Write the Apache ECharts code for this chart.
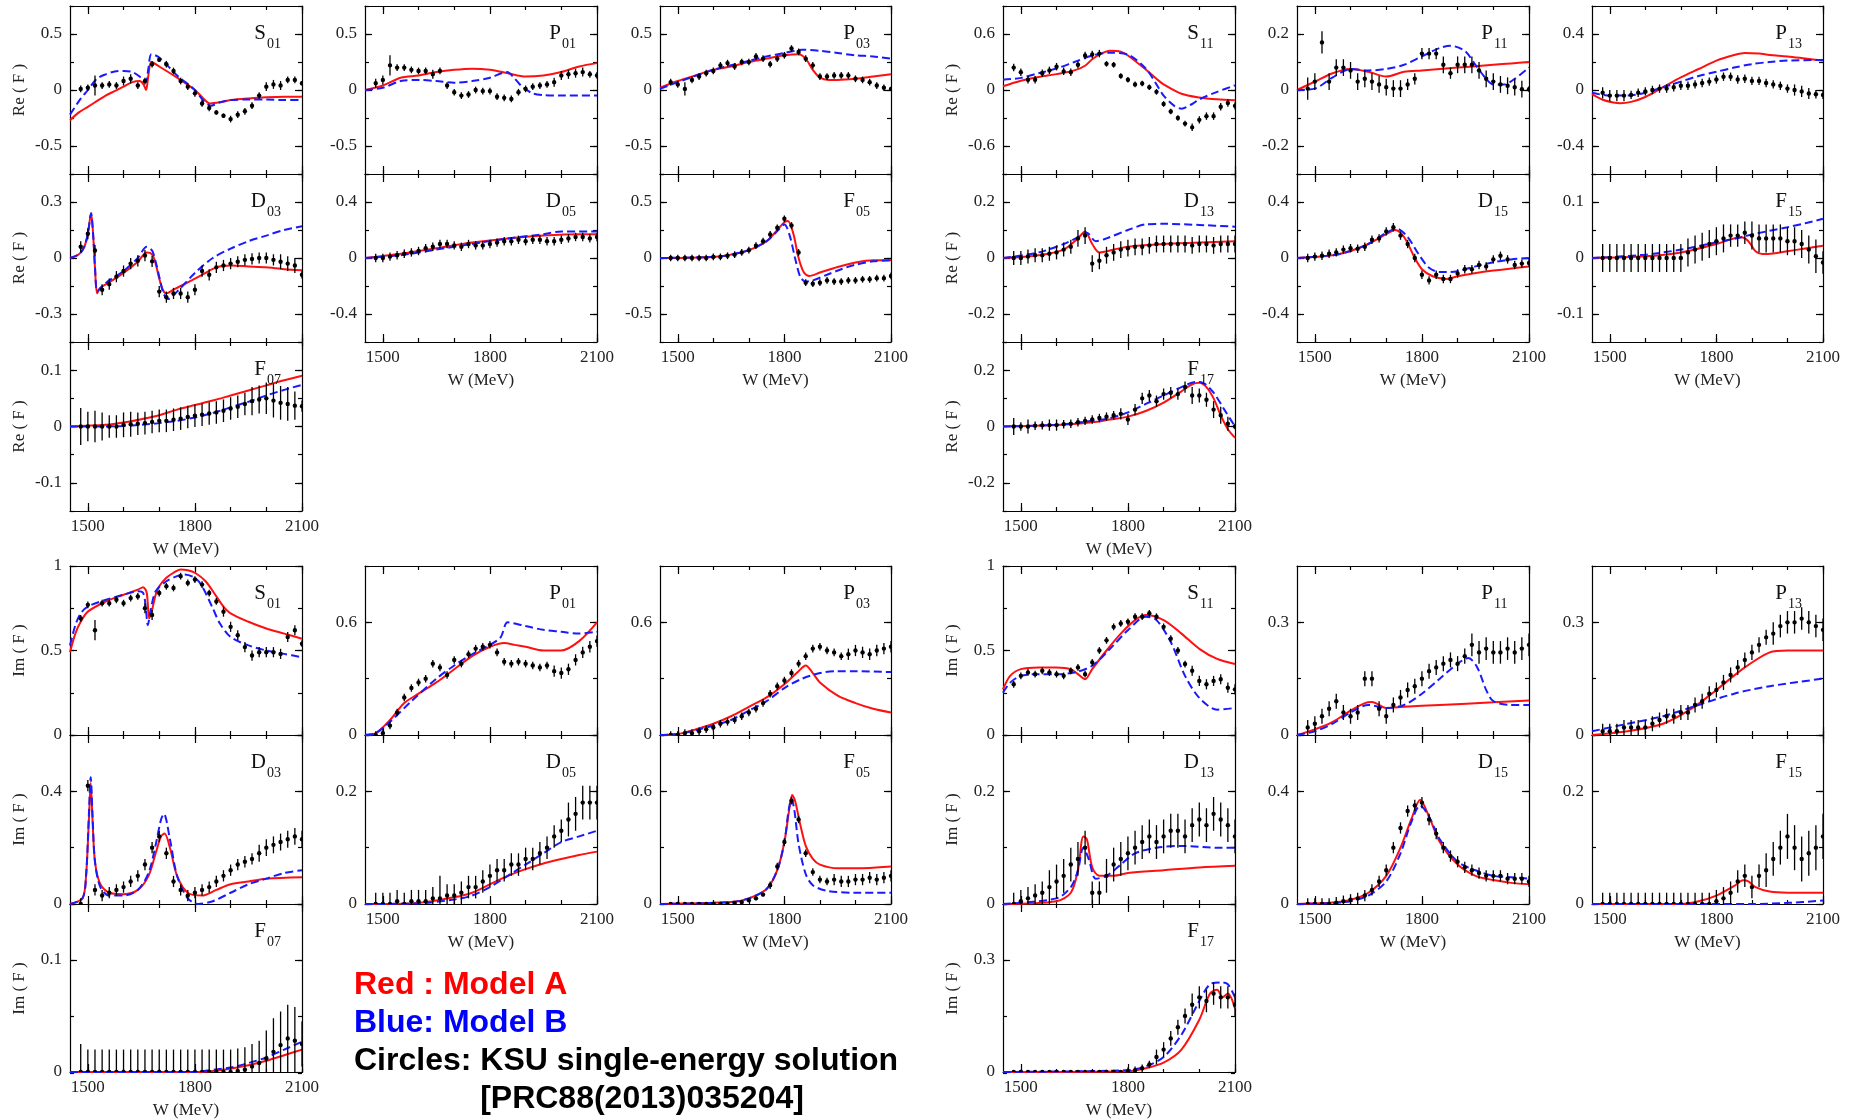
<!DOCTYPE html>
<html><head><meta charset="utf-8">
<script src="https://cdn.jsdelivr.net/npm/echarts@6/dist/echarts.min.js"></script>
<style>html,body{margin:0;padding:0;background:#fff}#c{width:1851px;height:1120px}</style>
</head><body><div id="c"></div>
<script>
// ---------- DATA ----------
const W = [1480,1500,1520,1540,1560,1580,1600,1620,1640,1660,1680,1700,1720,1740,1760,1780,1800,1820,1840,1860,1880,1900,1920,1940,1960,1980,2000,2020,2040,2060,2080,2100];
const xTickMinor = [1500,1600,1700,1800,1900,2000,2100];
const xTickMajor = [1500,1800,2100];

// Re parts
const reS01_v = [0.01,0.02,0.04,0.04,0.05,0.04,0.08,0.10,0.04,0.08,0.23,0.27,0.23,0.17,0.08,0.03,-0.03,-0.12,-0.16,-0.20,-0.23,-0.26,-0.22,-0.19,-0.14,-0.05,0.03,0.05,0.04,0.09,0.09,0.06];
const reS01_e = [0.03,0.03,0.09,0.03,0.03,0.03,0.04,0.04,0.03,0.03,0.03,0.02,0.03,0.03,0.03,0.03,0.03,0.03,0.03,0.02,0.02,0.03,0.03,0.03,0.03,0.03,0.04,0.04,0.04,0.03,0.03,0.02];
const reS01_A = [[1450,-0.27],[1475,-0.2],[1500,-0.15],[1525,-0.1],[1550,-0.05],[1575,-0.01],[1600,0.03],[1625,0.07],[1645,0.08],[1656,0.05],[1663,0.0],[1670,0.14],[1678,0.25],[1700,0.21],[1750,0.11],[1800,0.0],[1825,-0.08],[1842,-0.12],[1870,-0.11],[1900,-0.09],[1950,-0.075],[2000,-0.065],[2050,-0.06],[2100,-0.06]];
const reS01_B = [[1450,-0.22],[1475,-0.1],[1500,0.0],[1525,0.1],[1550,0.14],[1575,0.165],[1600,0.17],[1625,0.16],[1645,0.12],[1655,0.08],[1662,0.07],[1670,0.2],[1678,0.32],[1700,0.29],[1750,0.13],[1800,0.0],[1825,-0.1],[1845,-0.14],[1870,-0.11],[1900,-0.09],[1950,-0.085],[2000,-0.085],[2050,-0.09],[2100,-0.09]];

const reP01_v = [0.06,0.09,0.22,0.20,0.20,0.18,0.17,0.17,0.14,0.17,0.04,-0.02,-0.05,-0.04,0.0,-0.01,-0.01,-0.06,-0.07,-0.08,-0.02,0.01,0.03,0.04,0.05,0.07,0.13,0.14,0.15,0.16,0.14,0.13];
const reP01_e = [0.04,0.04,0.09,0.03,0.03,0.03,0.03,0.03,0.04,0.03,0.03,0.03,0.03,0.03,0.03,0.03,0.03,0.03,0.03,0.03,0.03,0.03,0.03,0.03,0.03,0.04,0.04,0.04,0.04,0.04,0.03,0.03];
const reP01_A = [[1450,0],[1500,0.04],[1550,0.11],[1600,0.13],[1650,0.16],[1700,0.18],[1750,0.19],[1800,0.18],[1850,0.15],[1900,0.12],[1950,0.13],[2000,0.16],[2050,0.21],[2100,0.24]];
const reP01_B = [[1450,0],[1500,0.02],[1550,0.08],[1600,0.09],[1650,0.08],[1700,0.065],[1750,0.08],[1800,0.11],[1848,0.16],[1870,0.1],[1890,0.03],[1920,-0.03],[1950,-0.045],[2000,-0.05],[2100,-0.05]];

const reP03_v = [0.07,0.05,0.01,0.09,0.12,0.15,0.17,0.22,0.24,0.21,0.25,0.25,0.30,0.28,0.23,0.28,0.31,0.37,0.34,0.28,0.22,0.12,0.12,0.13,0.13,0.13,0.10,0.09,0.07,0.04,0.02,0.01];
const reP03_e = [0.03,0.03,0.06,0.03,0.03,0.03,0.03,0.03,0.03,0.03,0.03,0.03,0.03,0.03,0.03,0.03,0.03,0.03,0.03,0.03,0.03,0.03,0.03,0.03,0.03,0.03,0.03,0.03,0.03,0.03,0.03,0.02];
const reP03_A = [[1450,0.02],[1500,0.08],[1550,0.13],[1600,0.18],[1650,0.21],[1700,0.25],[1750,0.28],[1800,0.31],[1840,0.32],[1860,0.28],[1880,0.18],[1900,0.11],[1925,0.09],[1950,0.09],[2000,0.10],[2050,0.12],[2100,0.14]];
const reP03_B = [[1450,0.01],[1500,0.07],[1600,0.18],[1700,0.26],[1750,0.30],[1800,0.33],[1850,0.36],[1900,0.35],[1950,0.33],[2000,0.31],[2050,0.30],[2100,0.28]];

const reS11_v = [0.24,0.19,0.11,0.11,0.18,0.21,0.25,0.20,0.19,0.27,0.37,0.38,0.39,0.28,0.27,0.15,0.11,0.06,0.07,0.03,-0.02,-0.15,-0.23,-0.30,-0.36,-0.40,-0.32,-0.28,-0.28,-0.18,-0.14,-0.17];
const reS11_e = [0.04,0.04,0.04,0.04,0.04,0.04,0.04,0.04,0.04,0.04,0.04,0.04,0.04,0.03,0.03,0.03,0.03,0.03,0.03,0.03,0.03,0.03,0.03,0.03,0.03,0.04,0.04,0.04,0.04,0.04,0.04,0.04];
const reS11_A = [[1450,0.04],[1500,0.10],[1550,0.14],[1600,0.17],[1650,0.21],[1680,0.26],[1700,0.33],[1725,0.39],[1750,0.42],[1780,0.41],[1800,0.37],[1850,0.22],[1880,0.12],[1900,0.06],[1950,-0.04],[2000,-0.08],[2050,-0.10],[2100,-0.11]];
const reS11_B = [[1450,0.11],[1500,0.13],[1550,0.18],[1600,0.23],[1650,0.30],[1700,0.37],[1750,0.40],[1800,0.38],[1850,0.23],[1880,0.06],[1900,-0.06],[1930,-0.17],[1950,-0.20],[1980,-0.15],[2000,-0.10],[2050,-0.02],[2100,0.05]];

const reP11_v = [0.005,0.03,0.17,0.03,0.08,0.08,0.07,0.03,0.04,0.03,0.02,0.01,0.005,0.005,0.02,0.04,0.13,0.13,0.13,0.09,0.06,0.09,0.09,0.09,0.07,0.04,0.03,0.02,0.015,0.01,0.003,0.003];
const reP11_e = [0.04,0.03,0.04,0.03,0.03,0.03,0.03,0.03,0.03,0.03,0.03,0.03,0.03,0.03,0.02,0.02,0.02,0.02,0.02,0.03,0.02,0.03,0.03,0.03,0.03,0.03,0.03,0.03,0.03,0.03,0.03,0.01];
const reP11_A = [[1450,0],[1500,0.03],[1550,0.06],[1600,0.075],[1650,0.065],[1700,0.048],[1750,0.065],[1800,0.07],[1850,0.075],[1900,0.08],[1950,0.085],[2000,0.09],[2050,0.095],[2100,0.1]];
const reP11_B = [[1450,0],[1500,0.005],[1550,0.045],[1600,0.075],[1650,0.07],[1700,0.075],[1750,0.09],[1800,0.12],[1850,0.15],[1880,0.158],[1920,0.14],[1950,0.09],[1980,0.04],[2000,0.02],[2030,0.02],[2060,0.04],[2100,0.08]];

const reP13_v = [-0.02,-0.04,-0.04,-0.04,-0.035,-0.02,-0.01,0.0,0.01,0.01,0.02,0.03,0.03,0.04,0.05,0.06,0.075,0.095,0.095,0.075,0.08,0.065,0.065,0.05,0.04,0.03,0.01,0.0,-0.01,-0.025,-0.03,-0.035];
const reP13_e = [0.04,0.04,0.04,0.04,0.03,0.03,0.03,0.03,0.03,0.03,0.03,0.03,0.03,0.03,0.03,0.03,0.03,0.03,0.03,0.03,0.03,0.03,0.03,0.03,0.03,0.03,0.03,0.04,0.04,0.04,0.03,0.03];
const reP13_A = [[1450,-0.03],[1480,-0.07],[1510,-0.09],[1530,-0.095],[1560,-0.085],[1600,-0.05],[1650,0.02],[1700,0.09],[1750,0.15],[1800,0.21],[1850,0.25],[1880,0.265],[1920,0.26],[1950,0.25],[2000,0.24],[2050,0.225],[2100,0.21]];
const reP13_B = [[1450,-0.02],[1500,-0.04],[1550,-0.04],[1600,-0.02],[1650,0.02],[1700,0.06],[1750,0.10],[1800,0.13],[1850,0.16],[1900,0.185],[1950,0.20],[2000,0.21],[2100,0.215]];

const reD03_v = [0.06,0.13,0.04,-0.17,-0.14,-0.10,-0.07,-0.03,-0.015,0.013,-0.018,-0.18,-0.21,-0.19,-0.19,-0.21,-0.17,-0.07,-0.09,-0.05,-0.04,-0.03,-0.02,-0.01,-0.005,0.0,0.0,-0.01,-0.02,-0.03,-0.04,-0.09];
const reD03_e = [0.03,0.03,0.03,0.03,0.03,0.03,0.03,0.03,0.03,0.03,0.03,0.03,0.03,0.03,0.03,0.03,0.03,0.03,0.03,0.03,0.03,0.03,0.03,0.03,0.03,0.03,0.03,0.03,0.04,0.04,0.04,0.02];
const reD03_A = [[1450,0],[1475,0.02],[1490,0.06],[1500,0.13],[1509,0.24],[1515,0.12],[1520,-0.05],[1526,-0.19],[1535,-0.16],[1560,-0.13],[1600,-0.08],[1640,-0.02],[1665,0.03],[1680,0.02],[1690,-0.03],[1700,-0.11],[1710,-0.17],[1720,-0.19],[1740,-0.17],[1780,-0.13],[1820,-0.09],[1860,-0.05],[1900,-0.04],[1950,-0.045],[2000,-0.05],[2050,-0.06],[2100,-0.065]];
const reD03_B = [[1450,0],[1475,0.02],[1490,0.06],[1500,0.13],[1509,0.24],[1515,0.12],[1520,-0.05],[1526,-0.18],[1535,-0.16],[1560,-0.12],[1600,-0.07],[1640,0.0],[1665,0.06],[1680,0.04],[1690,-0.02],[1700,-0.1],[1712,-0.19],[1725,-0.22],[1750,-0.18],[1800,-0.08],[1850,0.0],[1900,0.05],[1950,0.09],[2000,0.12],[2050,0.15],[2100,0.17]];

const reD05_v = [0.0,0.0,0.01,0.02,0.03,0.04,0.05,0.07,0.08,0.10,0.10,0.09,0.08,0.10,0.09,0.09,0.10,0.11,0.12,0.12,0.13,0.12,0.13,0.13,0.12,0.12,0.13,0.14,0.15,0.15,0.14,0.15];
const reD05_e = [0.03,0.03,0.03,0.03,0.03,0.03,0.03,0.03,0.03,0.03,0.03,0.03,0.03,0.03,0.03,0.03,0.03,0.03,0.03,0.03,0.03,0.03,0.03,0.03,0.03,0.03,0.03,0.03,0.03,0.03,0.03,0.03];
const reD05_A = [[1450,0],[1550,0.03],[1650,0.07],[1750,0.11],[1850,0.14],[1950,0.16],[2050,0.17],[2100,0.17]];
const reD05_B = [[1450,0],[1550,0.02],[1650,0.06],[1750,0.1],[1850,0.14],[1950,0.17],[2000,0.19],[2100,0.19]];

const reF05_v = [0,0,0,0,0,0,0.01,0.01,0.02,0.03,0.05,0.07,0.11,0.15,0.21,0.27,0.35,0.29,0.05,-0.22,-0.23,-0.22,-0.2,-0.21,-0.21,-0.2,-0.2,-0.19,-0.19,-0.18,-0.18,-0.16];
const reF05_e = [0.03,0.03,0.03,0.03,0.03,0.03,0.03,0.03,0.03,0.03,0.03,0.03,0.03,0.03,0.03,0.03,0.03,0.03,0.03,0.03,0.03,0.03,0.03,0.03,0.03,0.03,0.03,0.03,0.03,0.03,0.03,0.03];
const reF05_A = [[1450,0],[1600,0.01],[1650,0.03],[1700,0.07],[1750,0.15],[1780,0.25],[1800,0.32],[1810,0.33],[1825,0.22],[1840,0.0],[1855,-0.13],[1870,-0.16],[1900,-0.13],[1950,-0.08],[2000,-0.04],[2050,-0.02],[2100,-0.02]];
const reF05_B = [[1450,0],[1600,0.01],[1650,0.03],[1700,0.07],[1750,0.15],[1780,0.24],[1800,0.3],[1815,0.2],[1830,0.0],[1845,-0.17],[1860,-0.21],[1880,-0.2],[1920,-0.15],[1960,-0.1],[2000,-0.06],[2050,-0.03],[2100,-0.02]];

const reD13_v = [0,0,0.005,0.01,0.01,0.015,0.02,0.03,0.04,0.07,0.08,-0.02,-0.01,0.01,0.02,0.03,0.035,0.04,0.04,0.045,0.05,0.05,0.05,0.05,0.05,0.045,0.05,0.05,0.045,0.05,0.05,0.05];
const reD13_e = [0.025,0.025,0.025,0.025,0.025,0.025,0.025,0.025,0.025,0.03,0.03,0.03,0.03,0.03,0.03,0.03,0.03,0.03,0.03,0.03,0.03,0.03,0.03,0.03,0.03,0.03,0.03,0.03,0.03,0.03,0.03,0.03];
const reD13_A = [[1450,0],[1550,0.01],[1620,0.03],[1660,0.07],[1680,0.095],[1700,0.05],[1720,0.02],[1760,0.03],[1800,0.04],[1900,0.05],[2000,0.055],[2100,0.06]];
const reD13_B = [[1450,0],[1550,0.02],[1620,0.05],[1670,0.08],[1685,0.09],[1710,0.06],[1740,0.07],[1800,0.1],[1850,0.12],[1900,0.122],[2000,0.118],[2100,0.112]];

const reD15_v = [0,0.01,0.016,0.03,0.04,0.06,0.07,0.066,0.08,0.13,0.14,0.19,0.22,0.16,0.10,0.0,-0.12,-0.16,-0.12,-0.15,-0.15,-0.11,-0.08,-0.08,-0.05,-0.06,-0.01,0.016,-0.01,-0.05,-0.04,-0.035];
const reD15_e = [0.03,0.03,0.03,0.03,0.03,0.03,0.03,0.03,0.03,0.03,0.03,0.03,0.03,0.03,0.03,0.03,0.03,0.03,0.03,0.03,0.03,0.03,0.03,0.03,0.03,0.03,0.03,0.03,0.03,0.03,0.03,0.03];
const reD15_A = [[1450,0],[1550,0.02],[1600,0.05],[1650,0.1],[1700,0.17],[1725,0.2],[1750,0.15],[1780,0.0],[1800,-0.08],[1830,-0.13],[1870,-0.15],[1900,-0.13],[2000,-0.09],[2100,-0.06]];
const reD15_B = [[1450,0],[1550,0.02],[1600,0.05],[1650,0.1],[1700,0.18],[1730,0.21],[1760,0.15],[1790,0.03],[1820,-0.07],[1850,-0.1],[1880,-0.1],[1950,-0.06],[2000,-0.03],[2050,-0.01],[2100,0.0]];

const reF15_v = [0,0,0,0,0,0,0,0,0,0,0,0,0.01,0.015,0.02,0.025,0.03,0.035,0.04,0.04,0.045,0.04,0.035,0.035,0.035,0.035,0.03,0.03,0.025,0.015,0.003,-0.008];
const reF15_e = [0.025,0.025,0.025,0.025,0.025,0.025,0.025,0.025,0.025,0.025,0.025,0.025,0.025,0.025,0.025,0.025,0.025,0.025,0.02,0.02,0.02,0.025,0.025,0.025,0.025,0.025,0.025,0.025,0.025,0.025,0.03,0.02];
const reF15_A = [[1450,0],[1600,0.003],[1700,0.01],[1800,0.025],[1850,0.035],[1870,0.037],[1890,0.03],[1910,0.012],[1930,0.007],[1960,0.008],[2000,0.012],[2050,0.017],[2100,0.022]];
const reF15_B = [[1450,0],[1600,0.006],[1700,0.015],[1800,0.028],[1870,0.037],[1900,0.042],[2000,0.055],[2050,0.062],[2100,0.07]];

const reF07_v = [0,0,0,0,0,0,0.003,0.004,0.005,0.006,0.008,0.01,0.01,0.012,0.014,0.017,0.019,0.021,0.023,0.025,0.028,0.032,0.035,0.04,0.045,0.048,0.05,0.046,0.042,0.04,0.037,0.036];
const reF07_e = [0.033,0.026,0.028,0.025,0.02,0.02,0.022,0.022,0.02,0.02,0.02,0.02,0.02,0.02,0.02,0.02,0.02,0.02,0.02,0.02,0.02,0.02,0.02,0.02,0.025,0.025,0.028,0.03,0.03,0.03,0.025,0.01];
const reF07_A = [[1450,0],[1550,0.003],[1600,0.007],[1650,0.013],[1700,0.02],[1750,0.03],[1800,0.038],[1850,0.046],[1900,0.055],[1950,0.064],[2000,0.073],[2050,0.082],[2100,0.09]];
const reF07_B = [[1450,0],[1550,0],[1600,0.001],[1650,0.003],[1700,0.006],[1750,0.01],[1800,0.016],[1850,0.024],[1900,0.034],[1950,0.044],[2000,0.055],[2050,0.065],[2100,0.074]];

const reF17_v = [0,0,0,0.003,0.004,0.005,0.005,0.008,0.01,0.015,0.02,0.025,0.03,0.035,0.04,0.045,0.025,0.06,0.1,0.11,0.09,0.115,0.12,0.115,0.14,0.11,0.11,0.095,0.06,0.04,0.01,0.0];
const reF17_e = [0.03,0.015,0.025,0.015,0.015,0.02,0.02,0.015,0.015,0.015,0.015,0.015,0.015,0.015,0.015,0.02,0.02,0.02,0.02,0.02,0.02,0.02,0.02,0.02,0.02,0.03,0.025,0.025,0.03,0.03,0.025,0.01];
const reF17_A = [[1450,0],[1600,0.005],[1700,0.015],[1750,0.025],[1800,0.035],[1850,0.055],[1900,0.085],[1950,0.125],[1980,0.15],[2000,0.155],[2020,0.14],[2040,0.1],[2060,0.04],[2080,-0.01],[2100,-0.04]];
const reF17_B = [[1450,0],[1600,0.006],[1700,0.02],[1750,0.03],[1800,0.05],[1850,0.08],[1900,0.11],[1950,0.14],[1990,0.158],[2010,0.155],[2040,0.12],[2070,0.06],[2090,0.02],[2100,0.0]];

// Im parts
const imS01_v = [0.69,0.77,0.62,0.78,0.78,0.80,0.78,0.81,0.82,0.75,0.71,0.84,0.88,0.87,0.94,0.90,0.92,0.89,0.84,0.79,0.73,0.64,0.59,0.52,0.47,0.49,0.49,0.49,0.48,0.58,0.62,0.54];
const imS01_e = [0.02,0.02,0.06,0.02,0.02,0.02,0.02,0.02,0.02,0.03,0.03,0.02,0.02,0.02,0.02,0.02,0.02,0.02,0.02,0.02,0.03,0.03,0.03,0.03,0.03,0.03,0.03,0.03,0.03,0.03,0.03,0.02];
const imS01_A = [[1450,0.49],[1465,0.6],[1480,0.67],[1500,0.73],[1550,0.79],[1600,0.83],[1640,0.86],[1655,0.875],[1665,0.84],[1672,0.69],[1680,0.74],[1690,0.83],[1700,0.88],[1720,0.93],[1740,0.96],[1760,0.98],[1780,0.975],[1800,0.96],[1830,0.91],[1860,0.82],[1880,0.76],[1900,0.72],[1950,0.67],[2000,0.63],[2050,0.6],[2100,0.57]];
const imS01_B = [[1450,0.53],[1465,0.65],[1480,0.72],[1500,0.76],[1550,0.8],[1600,0.83],[1640,0.85],[1655,0.84],[1662,0.76],[1668,0.65],[1676,0.74],[1690,0.85],[1720,0.91],[1750,0.94],[1770,0.95],[1800,0.93],[1820,0.88],[1850,0.75],[1870,0.66],[1900,0.58],[1950,0.53],[2000,0.5],[2050,0.48],[2100,0.46]];

const imP01_v = [0.0,0.01,0.05,0.12,0.2,0.25,0.28,0.3,0.38,0.36,0.32,0.4,0.38,0.43,0.46,0.47,0.48,0.44,0.39,0.38,0.39,0.38,0.37,0.36,0.37,0.34,0.33,0.35,0.4,0.44,0.47,0.5];
const imP01_e = [0.02,0.02,0.02,0.02,0.02,0.02,0.02,0.02,0.02,0.02,0.02,0.02,0.02,0.02,0.02,0.02,0.02,0.02,0.02,0.02,0.02,0.02,0.02,0.02,0.02,0.03,0.03,0.03,0.03,0.03,0.03,0.03];
const imP01_A = [[1450,0],[1480,0.01],[1520,0.08],[1560,0.17],[1600,0.22],[1650,0.28],[1700,0.35],[1750,0.42],[1800,0.47],[1840,0.49],[1870,0.48],[1900,0.47],[1950,0.45],[2000,0.45],[2050,0.5],[2100,0.6]];
const imP01_B = [[1450,0],[1480,0.01],[1520,0.07],[1580,0.18],[1650,0.3],[1700,0.37],[1750,0.43],[1800,0.48],[1830,0.52],[1850,0.6],[1900,0.58],[1950,0.56],[2000,0.55],[2050,0.54],[2100,0.55]];

const imP03_v = [0.0,0.0,0.01,0.01,0.02,0.03,0.04,0.06,0.07,0.08,0.1,0.12,0.14,0.17,0.22,0.26,0.29,0.33,0.38,0.42,0.46,0.47,0.45,0.44,0.42,0.43,0.45,0.44,0.43,0.45,0.46,0.47];
const imP03_e = [0.02,0.02,0.02,0.02,0.02,0.02,0.02,0.02,0.02,0.02,0.02,0.02,0.02,0.02,0.02,0.02,0.02,0.02,0.02,0.02,0.02,0.02,0.02,0.02,0.02,0.03,0.03,0.03,0.03,0.03,0.03,0.03];
const imP03_A = [[1450,0],[1500,0.005],[1550,0.03],[1600,0.06],[1650,0.1],[1700,0.15],[1750,0.2],[1800,0.27],[1840,0.34],[1860,0.37],[1880,0.33],[1900,0.28],[1950,0.21],[2000,0.17],[2050,0.14],[2100,0.12]];
const imP03_B = [[1450,0],[1500,0.005],[1550,0.025],[1600,0.05],[1650,0.08],[1700,0.13],[1750,0.18],[1800,0.25],[1850,0.3],[1900,0.33],[1950,0.34],[2000,0.34],[2100,0.335]];

const imS11_v = [0.3,0.35,0.37,0.36,0.38,0.37,0.36,0.35,0.38,0.4,0.36,0.43,0.5,0.56,0.64,0.66,0.67,0.7,0.7,0.72,0.7,0.64,0.57,0.5,0.42,0.38,0.32,0.3,0.32,0.33,0.28,0.27];
const imS11_e = [0.02,0.02,0.02,0.02,0.02,0.02,0.02,0.02,0.02,0.02,0.02,0.02,0.02,0.02,0.02,0.02,0.02,0.02,0.02,0.02,0.02,0.02,0.02,0.02,0.02,0.03,0.03,0.03,0.03,0.03,0.03,0.03];
const imS11_A = [[1450,0.27],[1470,0.35],[1500,0.39],[1550,0.4],[1600,0.4],[1640,0.39],[1660,0.36],[1680,0.33],[1700,0.39],[1740,0.5],[1780,0.6],[1820,0.68],[1850,0.71],[1900,0.68],[1950,0.6],[2000,0.51],[2050,0.45],[2100,0.42]];
const imS11_B = [[1450,0.25],[1470,0.31],[1500,0.35],[1550,0.36],[1600,0.36],[1650,0.37],[1700,0.41],[1750,0.51],[1800,0.62],[1850,0.7],[1880,0.68],[1920,0.55],[1960,0.35],[2000,0.22],[2050,0.15],[2100,0.16]];

const imP11_v = [0.02,0.03,0.05,0.07,0.09,0.06,0.05,0.06,0.15,0.15,0.07,0.05,0.08,0.1,0.12,0.13,0.15,0.17,0.18,0.19,0.2,0.19,0.21,0.24,0.22,0.23,0.22,0.22,0.23,0.22,0.23,0.24];
const imP11_e = [0.02,0.02,0.02,0.02,0.02,0.02,0.02,0.02,0.02,0.02,0.02,0.02,0.02,0.02,0.02,0.02,0.02,0.02,0.02,0.02,0.02,0.02,0.02,0.03,0.03,0.03,0.03,0.03,0.03,0.03,0.03,0.03];
const imP11_A = [[1450,0],[1500,0.015],[1550,0.035],[1600,0.065],[1640,0.085],[1660,0.088],[1700,0.072],[1750,0.075],[1850,0.08],[2000,0.087],[2100,0.092]];
const imP11_B = [[1450,0],[1500,0.01],[1550,0.03],[1600,0.06],[1650,0.08],[1700,0.072],[1750,0.08],[1800,0.11],[1850,0.15],[1900,0.19],[1930,0.205],[1955,0.18],[1980,0.12],[2000,0.09],[2050,0.08],[2100,0.08]];

const imP13_v = [0.01,0.01,0.01,0.02,0.02,0.02,0.02,0.03,0.04,0.05,0.05,0.06,0.06,0.08,0.09,0.11,0.12,0.14,0.16,0.18,0.2,0.22,0.24,0.26,0.27,0.29,0.3,0.3,0.31,0.3,0.29,0.28];
const imP13_e = [0.02,0.02,0.02,0.02,0.02,0.02,0.02,0.02,0.02,0.02,0.02,0.02,0.02,0.02,0.02,0.02,0.02,0.02,0.02,0.02,0.02,0.02,0.02,0.02,0.03,0.03,0.03,0.03,0.03,0.03,0.03,0.03];
const imP13_A = [[1450,0],[1550,0.01],[1650,0.03],[1730,0.07],[1800,0.12],[1880,0.18],[1950,0.22],[2000,0.225],[2100,0.225]];
const imP13_B = [[1450,0.01],[1550,0.03],[1650,0.05],[1750,0.08],[1850,0.11],[1950,0.13],[2100,0.15]];

const imD03_v = [0.0,0.42,0.05,0.03,0.04,0.05,0.06,0.08,0.1,0.14,0.2,0.24,0.18,0.08,0.05,0.03,0.04,0.05,0.06,0.08,0.1,0.12,0.14,0.15,0.16,0.18,0.2,0.21,0.22,0.23,0.24,0.23];
const imD03_e = [0.02,0.02,0.02,0.02,0.02,0.02,0.02,0.02,0.02,0.02,0.02,0.02,0.02,0.02,0.02,0.02,0.02,0.02,0.02,0.02,0.02,0.02,0.02,0.02,0.02,0.03,0.03,0.03,0.03,0.03,0.03,0.03];
const imD03_A = [[1450,0],[1485,0.02],[1495,0.1],[1503,0.3],[1508,0.43],[1513,0.3],[1520,0.15],[1535,0.07],[1560,0.04],[1600,0.035],[1640,0.05],[1670,0.1],[1690,0.18],[1705,0.24],[1715,0.25],[1730,0.2],[1750,0.1],[1780,0.04],[1820,0.03],[1860,0.05],[1900,0.07],[1950,0.08],[2000,0.09],[2100,0.095]];
const imD03_B = [[1450,0],[1485,0.02],[1495,0.1],[1503,0.32],[1508,0.45],[1513,0.32],[1520,0.15],[1535,0.06],[1560,0.03],[1600,0.03],[1640,0.05],[1670,0.11],[1690,0.21],[1705,0.3],[1713,0.32],[1730,0.23],[1750,0.1],[1780,0.02],[1810,0.0],[1850,0.01],[1900,0.04],[1950,0.07],[2000,0.09],[2050,0.11],[2100,0.12]];

const imD05_v = [0.0,0.0,0.0,0.005,0.0,0.005,0.005,0.005,0.01,0.01,0.015,0.015,0.02,0.03,0.03,0.04,0.05,0.06,0.06,0.07,0.07,0.08,0.08,0.09,0.1,0.12,0.13,0.15,0.16,0.18,0.18,0.18];
const imD05_e = [0.02,0.02,0.02,0.02,0.02,0.02,0.02,0.02,0.02,0.04,0.02,0.02,0.02,0.02,0.02,0.02,0.02,0.02,0.02,0.02,0.02,0.02,0.02,0.02,0.02,0.02,0.02,0.03,0.03,0.03,0.03,0.03];
const imD05_A = [[1450,0],[1600,0.002],[1700,0.012],[1750,0.02],[1800,0.035],[1850,0.05],[1900,0.062],[1950,0.072],[2000,0.08],[2050,0.087],[2100,0.093]];
const imD05_B = [[1450,0],[1600,0.001],[1700,0.008],[1750,0.015],[1800,0.03],[1850,0.05],[1900,0.07],[1950,0.09],[2000,0.11],[2050,0.12],[2100,0.13]];

const imF05_v = [0,0,0,0,0,0,0,0,0,0.005,0.01,0.02,0.03,0.05,0.1,0.2,0.33,0.55,0.45,0.27,0.17,0.13,0.12,0.13,0.12,0.12,0.13,0.13,0.14,0.13,0.14,0.15];
const imF05_e = [0.01,0.01,0.01,0.01,0.01,0.01,0.01,0.01,0.01,0.01,0.01,0.01,0.01,0.01,0.02,0.02,0.02,0.02,0.02,0.02,0.02,0.02,0.02,0.03,0.03,0.03,0.03,0.03,0.03,0.03,0.03,0.03];
const imF05_A = [[1450,0],[1650,0.01],[1700,0.03],[1750,0.08],[1780,0.18],[1800,0.33],[1815,0.52],[1822,0.58],[1830,0.55],[1845,0.42],[1860,0.31],[1880,0.24],[1900,0.21],[1950,0.19],[2000,0.19],[2100,0.2]];
const imF05_B = [[1450,0],[1650,0.01],[1700,0.03],[1750,0.08],[1780,0.18],[1800,0.33],[1812,0.5],[1820,0.56],[1828,0.5],[1840,0.32],[1860,0.16],[1880,0.1],[1920,0.07],[2000,0.06],[2100,0.06]];

const imD13_v = [0.0,0.005,0.01,0.015,0.02,0.03,0.04,0.05,0.07,0.08,0.1,0.02,0.02,0.05,0.07,0.08,0.09,0.1,0.11,0.12,0.11,0.12,0.13,0.13,0.12,0.14,0.15,0.14,0.16,0.15,0.14,0.12];
const imD13_e = [0.02,0.02,0.02,0.02,0.02,0.03,0.03,0.03,0.03,0.03,0.03,0.02,0.02,0.03,0.03,0.03,0.03,0.03,0.03,0.03,0.03,0.03,0.03,0.03,0.03,0.03,0.03,0.03,0.03,0.03,0.03,0.03];
const imD13_A = [[1450,0],[1600,0.005],[1640,0.02],[1660,0.06],[1675,0.12],[1685,0.115],[1700,0.065],[1720,0.05],[1760,0.05],[1800,0.055],[1900,0.06],[2000,0.065],[2100,0.068]];
const imD13_B = [[1450,0],[1600,0.01],[1640,0.03],[1660,0.06],[1675,0.1],[1690,0.08],[1710,0.045],[1740,0.05],[1780,0.07],[1820,0.09],[1880,0.1],[1950,0.103],[2050,0.1],[2100,0.1]];

const imD15_v = [0,0,0,0,0.005,0.01,0.015,0.02,0.03,0.05,0.08,0.12,0.2,0.27,0.33,0.35,0.36,0.3,0.25,0.2,0.17,0.15,0.13,0.12,0.11,0.1,0.1,0.1,0.09,0.09,0.09,0.08];
const imD15_e = [0.02,0.02,0.02,0.02,0.02,0.02,0.02,0.02,0.02,0.02,0.02,0.02,0.02,0.02,0.02,0.02,0.02,0.02,0.02,0.02,0.02,0.02,0.02,0.02,0.02,0.02,0.02,0.02,0.02,0.02,0.02,0.02];
const imD15_A = [[1450,0],[1550,0.005],[1600,0.015],[1650,0.04],[1700,0.1],[1740,0.2],[1770,0.3],[1795,0.37],[1820,0.31],[1850,0.22],[1900,0.14],[1950,0.1],[2000,0.085],[2050,0.075],[2100,0.07]];
const imD15_B = [[1450,0],[1550,0.003],[1600,0.01],[1650,0.03],[1700,0.08],[1740,0.18],[1770,0.29],[1795,0.35],[1820,0.31],[1850,0.23],[1900,0.15],[1950,0.12],[2000,0.1],[2050,0.095],[2100,0.09]];

const imF15_v = [0,0,0,0,0,0,0,0,0,0,0,0,0,0,0,0,0.005,0.01,0.02,0.04,0.05,0.03,0.05,0.06,0.08,0.1,0.12,0.1,0.08,0.09,0.1,0.12];
const imF15_e = [0.02,0.02,0.02,0.02,0.02,0.02,0.02,0.02,0.02,0.02,0.02,0.02,0.02,0.02,0.02,0.02,0.02,0.02,0.02,0.02,0.02,0.02,0.02,0.03,0.03,0.03,0.04,0.04,0.04,0.04,0.04,0.04];
const imF15_A = [[1450,0],[1700,0.0],[1750,0.005],[1800,0.015],[1850,0.032],[1875,0.042],[1890,0.04],[1910,0.03],[1950,0.022],[2000,0.02],[2100,0.02]];
const imF15_B = [[1450,0],[1900,0.0],[2000,0.002],[2100,0.006]];

const imF07_v = [0,0,0,0,0,0,0,0,0,0,0,0,0,0,0,0,0,0,0,0,0,0,0.001,0.002,0.005,0.008,0.012,0.018,0.024,0.03,0.028,0.025];
const imF07_e = [0.025,0.02,0.02,0.02,0.02,0.02,0.02,0.02,0.02,0.02,0.02,0.02,0.02,0.02,0.02,0.02,0.02,0.02,0.02,0.02,0.02,0.02,0.02,0.02,0.02,0.02,0.025,0.03,0.03,0.03,0.03,0.02];
const imF07_A = [[1450,0],[1800,0.0],[1850,0.001],[1900,0.003],[1950,0.006],[2000,0.01],[2050,0.015],[2100,0.02]];
const imF07_B = [[1450,0],[1800,0.0],[1850,0.002],[1900,0.004],[1950,0.008],[2000,0.013],[2050,0.02],[2100,0.027]];

const imF17_v = [0,0,0,0,0,0,0,0,0,0,0,0,0,0,0,0,0.002,0.005,0.01,0.02,0.04,0.06,0.09,0.12,0.15,0.18,0.2,0.19,0.21,0.2,0.2,0.18];
const imF17_e = [0.005,0.005,0.005,0.005,0.005,0.005,0.005,0.005,0.005,0.005,0.005,0.005,0.005,0.005,0.005,0.005,0.01,0.01,0.01,0.01,0.02,0.02,0.02,0.02,0.02,0.03,0.03,0.03,0.03,0.03,0.03,0.03];
const imF17_A = [[1450,0],[1800,0.002],[1850,0.01],[1900,0.025],[1950,0.06],[2000,0.14],[2030,0.21],[2050,0.22],[2065,0.2],[2080,0.21],[2100,0.17]];
const imF17_B = [[1450,0],[1800,0.005],[1850,0.015],[1900,0.04],[1950,0.1],[2000,0.19],[2030,0.235],[2060,0.24],[2080,0.235],[2100,0.2]];

// ---------- PANELS ----------
// y: [min, max, minor step], yl: tick labels
const panels = [
  {p:'Re',n:'S',s:'01',c:0,r:0,y:[-0.75,0.75,0.25],yl:[-0.5,0,0.5],v:reS01_v,e:reS01_e,A:reS01_A,B:reS01_B},
  {p:'Re',n:'P',s:'01',c:1,r:0,y:[-0.75,0.75,0.25],yl:[-0.5,0,0.5],v:reP01_v,e:reP01_e,A:reP01_A,B:reP01_B},
  {p:'Re',n:'P',s:'03',c:2,r:0,y:[-0.75,0.75,0.25],yl:[-0.5,0,0.5],v:reP03_v,e:reP03_e,A:reP03_A,B:reP03_B},
  {p:'Re',n:'S',s:'11',c:3,r:0,y:[-0.9,0.9,0.3],yl:[-0.6,0,0.6],v:reS11_v,e:reS11_e,A:reS11_A,B:reS11_B},
  {p:'Re',n:'P',s:'11',c:4,r:0,y:[-0.3,0.3,0.1],yl:[-0.2,0,0.2],v:reP11_v,e:reP11_e,A:reP11_A,B:reP11_B},
  {p:'Re',n:'P',s:'13',c:5,r:0,y:[-0.6,0.6,0.2],yl:[-0.4,0,0.4],v:reP13_v,e:reP13_e,A:reP13_A,B:reP13_B},
  {p:'Re',n:'D',s:'03',c:0,r:1,y:[-0.45,0.45,0.15],yl:[-0.3,0,0.3],v:reD03_v,e:reD03_e,A:reD03_A,B:reD03_B},
  {p:'Re',n:'D',s:'05',c:1,r:1,y:[-0.6,0.6,0.2],yl:[-0.4,0,0.4],v:reD05_v,e:reD05_e,A:reD05_A,B:reD05_B},
  {p:'Re',n:'F',s:'05',c:2,r:1,y:[-0.75,0.75,0.25],yl:[-0.5,0,0.5],v:reF05_v,e:reF05_e,A:reF05_A,B:reF05_B},
  {p:'Re',n:'D',s:'13',c:3,r:1,y:[-0.3,0.3,0.1],yl:[-0.2,0,0.2],v:reD13_v,e:reD13_e,A:reD13_A,B:reD13_B},
  {p:'Re',n:'D',s:'15',c:4,r:1,y:[-0.6,0.6,0.2],yl:[-0.4,0,0.4],v:reD15_v,e:reD15_e,A:reD15_A,B:reD15_B},
  {p:'Re',n:'F',s:'15',c:5,r:1,y:[-0.15,0.15,0.05],yl:[-0.1,0,0.1],v:reF15_v,e:reF15_e,A:reF15_A,B:reF15_B},
  {p:'Re',n:'F',s:'07',c:0,r:2,y:[-0.15,0.15,0.05],yl:[-0.1,0,0.1],v:reF07_v,e:reF07_e,A:reF07_A,B:reF07_B},
  {p:'Re',n:'F',s:'17',c:3,r:2,y:[-0.3,0.3,0.1],yl:[-0.2,0,0.2],v:reF17_v,e:reF17_e,A:reF17_A,B:reF17_B},
  {p:'Im',n:'S',s:'01',c:0,r:0,y:[0,1,0.25],yl:[0,0.5,1],v:imS01_v,e:imS01_e,A:imS01_A,B:imS01_B},
  {p:'Im',n:'P',s:'01',c:1,r:0,y:[0,0.9,0.3],yl:[0,0.6],v:imP01_v,e:imP01_e,A:imP01_A,B:imP01_B},
  {p:'Im',n:'P',s:'03',c:2,r:0,y:[0,0.9,0.3],yl:[0,0.6],v:imP03_v,e:imP03_e,A:imP03_A,B:imP03_B},
  {p:'Im',n:'S',s:'11',c:3,r:0,y:[0,1,0.25],yl:[0,0.5,1],v:imS11_v,e:imS11_e,A:imS11_A,B:imS11_B},
  {p:'Im',n:'P',s:'11',c:4,r:0,y:[0,0.45,0.15],yl:[0,0.3],v:imP11_v,e:imP11_e,A:imP11_A,B:imP11_B},
  {p:'Im',n:'P',s:'13',c:5,r:0,y:[0,0.45,0.15],yl:[0,0.3],v:imP13_v,e:imP13_e,A:imP13_A,B:imP13_B},
  {p:'Im',n:'D',s:'03',c:0,r:1,y:[0,0.6,0.2],yl:[0,0.4],v:imD03_v,e:imD03_e,A:imD03_A,B:imD03_B},
  {p:'Im',n:'D',s:'05',c:1,r:1,y:[0,0.3,0.1],yl:[0,0.2],v:imD05_v,e:imD05_e,A:imD05_A,B:imD05_B},
  {p:'Im',n:'F',s:'05',c:2,r:1,y:[0,0.9,0.3],yl:[0,0.6],v:imF05_v,e:imF05_e,A:imF05_A,B:imF05_B},
  {p:'Im',n:'D',s:'13',c:3,r:1,y:[0,0.3,0.1],yl:[0,0.2],v:imD13_v,e:imD13_e,A:imD13_A,B:imD13_B},
  {p:'Im',n:'D',s:'15',c:4,r:1,y:[0,0.6,0.2],yl:[0,0.4],v:imD15_v,e:imD15_e,A:imD15_A,B:imD15_B},
  {p:'Im',n:'F',s:'15',c:5,r:1,y:[0,0.3,0.1],yl:[0,0.2],v:imF15_v,e:imF15_e,A:imF15_A,B:imF15_B},
  {p:'Im',n:'F',s:'07',c:0,r:2,y:[0,0.15,0.05],yl:[0,0.1],v:imF07_v,e:imF07_e,A:imF07_A,B:imF07_B},
  {p:'Im',n:'F',s:'17',c:3,r:2,y:[0,0.45,0.15],yl:[0,0.3],v:imF17_v,e:imF17_e,A:imF17_A,B:imF17_B}
];

const legendLines = [
  {t:'Red : Model A', c:'#ff0000'},
  {t:'Blue: Model B', c:'#0000ff'},
  {t:'Circles: KSU single-energy solution', c:'#000000'},
  {t:'[PRC88(2013)035204]', c:'#000000'}
];

// ---------- LAYOUT ----------
const COLS = [[70,232],[365,232],[660,231],[1003,232],[1297,232],[1592,231]];
const ROWS = {Re:[[6,168],[174,168],[342,169]], Im:[[566,169],[735,169],[904,169]]};
const lastRow = [2,1,1,2,1,1];
const SERIF = 'Liberation Serif';
const TXT = '#222';
const fmt = (v) => String(+v.toFixed(4));

const grid = [], xAxis = [], yAxis = [], series = [], graphic = [];

function range(a,b,s){ const out=[]; const n=Math.round((b-a)/s); for(let i=0;i<=n;i++) out.push(+(a+i*s).toFixed(6)); return out; }

panels.forEach((pn) => {
  const [L,Wd] = COLS[pn.c];
  const [T,H] = ROWS[pn.p][pn.r];
  const showX = pn.r === lastRow[pn.c];
  const gMain = grid.length;
  grid.push({left:L, top:T, width:Wd, height:H, containLabel:false});
  grid.push({left:L, top:T, width:Wd, height:H, containLabel:false});
  const gMin = gMain+1;
  const yMinor = range(pn.y[0], pn.y[1], pn.y[2]);
  const lineStyle = {color:'#000', width:1.2};
  const tickStyle = {color:'#000', width:1.2};
  const xB = xAxis.length;
  xAxis.push({gridIndex:gMain, type:'value', min:1450, max:2100, position:'bottom',
    axisLine:{show:true, onZero:false, lineStyle},
    axisTick:{show:true, inside:true, length:8, customValues:xTickMajor, lineStyle:tickStyle},
    axisLabel:{show:showX, customValues:xTickMajor, formatter:fmt, margin:7, fontSize:17, fontFamily:SERIF, color:TXT},
    splitLine:{show:false},
    name: showX ? 'W (MeV)' : '', nameLocation:'middle', nameGap:30,
    nameTextStyle:{fontSize:17, fontFamily:SERIF, color:TXT}});
  xAxis.push({gridIndex:gMain, type:'value', min:1450, max:2100, position:'top',
    axisLine:{show:true, onZero:false, lineStyle},
    axisTick:{show:true, inside:true, length:8, customValues:xTickMajor, lineStyle:tickStyle},
    axisLabel:{show:false}, splitLine:{show:false}});
  const yL = yAxis.length;
  yAxis.push({gridIndex:gMain, type:'value', min:pn.y[0], max:pn.y[1], position:'left',
    axisLine:{show:true, onZero:false, lineStyle},
    axisTick:{show:true, inside:true, length:7, customValues:pn.yl, lineStyle:tickStyle},
    axisLabel:{show:true, customValues:pn.yl, formatter:fmt, margin:8, fontSize:17, fontFamily:SERIF, color:TXT},
    splitLine:{show:false}});
  yAxis.push({gridIndex:gMain, type:'value', min:pn.y[0], max:pn.y[1], position:'right',
    axisLine:{show:true, onZero:false, lineStyle},
    axisTick:{show:true, inside:true, length:7, customValues:pn.yl, lineStyle:tickStyle},
    axisLabel:{show:false}, splitLine:{show:false}});
  xAxis.push({gridIndex:gMin, type:'value', min:1450, max:2100, position:'bottom',
    axisLine:{show:false, onZero:false}, axisTick:{show:true, inside:true, length:4, customValues:xTickMinor, lineStyle:tickStyle},
    axisLabel:{show:false}, splitLine:{show:false}});
  xAxis.push({gridIndex:gMin, type:'value', min:1450, max:2100, position:'top',
    axisLine:{show:false, onZero:false}, axisTick:{show:true, inside:true, length:4, customValues:xTickMinor, lineStyle:tickStyle},
    axisLabel:{show:false}, splitLine:{show:false}});
  yAxis.push({gridIndex:gMin, type:'value', min:pn.y[0], max:pn.y[1], position:'left',
    axisLine:{show:false, onZero:false}, axisTick:{show:true, inside:true, length:4, customValues:yMinor, lineStyle:tickStyle},
    axisLabel:{show:false}, splitLine:{show:false}});
  yAxis.push({gridIndex:gMin, type:'value', min:pn.y[0], max:pn.y[1], position:'right',
    axisLine:{show:false, onZero:false}, axisTick:{show:true, inside:true, length:4, customValues:yMinor, lineStyle:tickStyle},
    axisLabel:{show:false}, splitLine:{show:false}});

  series.push({type:'line', xAxisIndex:xB, yAxisIndex:yL, data:pn.A, showSymbol:false, smooth:0.3,
    lineStyle:{color:'#ff1010', width:2}, silent:true, z:3, clip:true, animation:false});
  series.push({type:'line', xAxisIndex:xB, yAxisIndex:yL, data:pn.B, showSymbol:false, smooth:0.3,
    lineStyle:{color:'#1a1aff', width:2, type:[8,4]}, silent:true, z:4, clip:true, animation:false});
  const pts = W.map((w,i) => [w, pn.v[i], pn.e[i]]);
  series.push({type:'custom', xAxisIndex:xB, yAxisIndex:yL, data:pts, z:5, animation:false, silent:true, clip:true,
    encode:{x:0, y:1},
    renderItem:(params, api) => {
      const x = api.value(0), y = api.value(1), e = api.value(2);
      const c = api.coord([x,y]), lo = api.coord([x,y-e]), hi = api.coord([x,y+e]);
      return {type:'group', children:[
        {type:'line', shape:{x1:c[0],y1:lo[1],x2:c[0],y2:hi[1]}, style:{stroke:'#000', lineWidth:1.3}},
        {type:'circle', shape:{cx:c[0], cy:c[1], r:2.2}, style:{fill:'#000'}}
      ]};
    }});

  const xr = L + Wd - 36;
  graphic.push({type:'text', x:xr, y:T+38, style:{text:pn.n, font:'21px "Liberation Serif"', fill:'#111', textAlign:'right', textVerticalAlign:'bottom'}, z:10});
  graphic.push({type:'text', x:xr+1, y:T+45, style:{text:pn.s, font:'14px "Liberation Serif"', fill:'#111', textAlign:'left', textVerticalAlign:'bottom'}, z:10});

  if (pn.c === 0 || pn.c === 3) {
    graphic.push({type:'text', x:L-50, y:T+H/2, rotation:Math.PI/2,
      style:{text:pn.p + ' ( F )', font:'17px "Liberation Serif"', fill:TXT, textAlign:'center', textVerticalAlign:'middle'}, z:10});
  }
});

const legendY = [985, 1023, 1061, 1099];
legendLines.forEach((ln, i) => {
  const centered = i === 3;
  graphic.push({type:'text', x: centered ? 642 : 354, y: legendY[i],
    style:{text:ln.t, font:'bold 32px "Liberation Sans"', fill:ln.c, textAlign: centered ? 'center' : 'left', textVerticalAlign:'middle'}, z:10});
});

const chart = echarts.init(document.getElementById('c'), null, {renderer:'canvas', width:1851, height:1120});
chart.setOption({animation:false, backgroundColor:'#fff', grid, xAxis, yAxis, series, graphic});
</script>
</body></html>
